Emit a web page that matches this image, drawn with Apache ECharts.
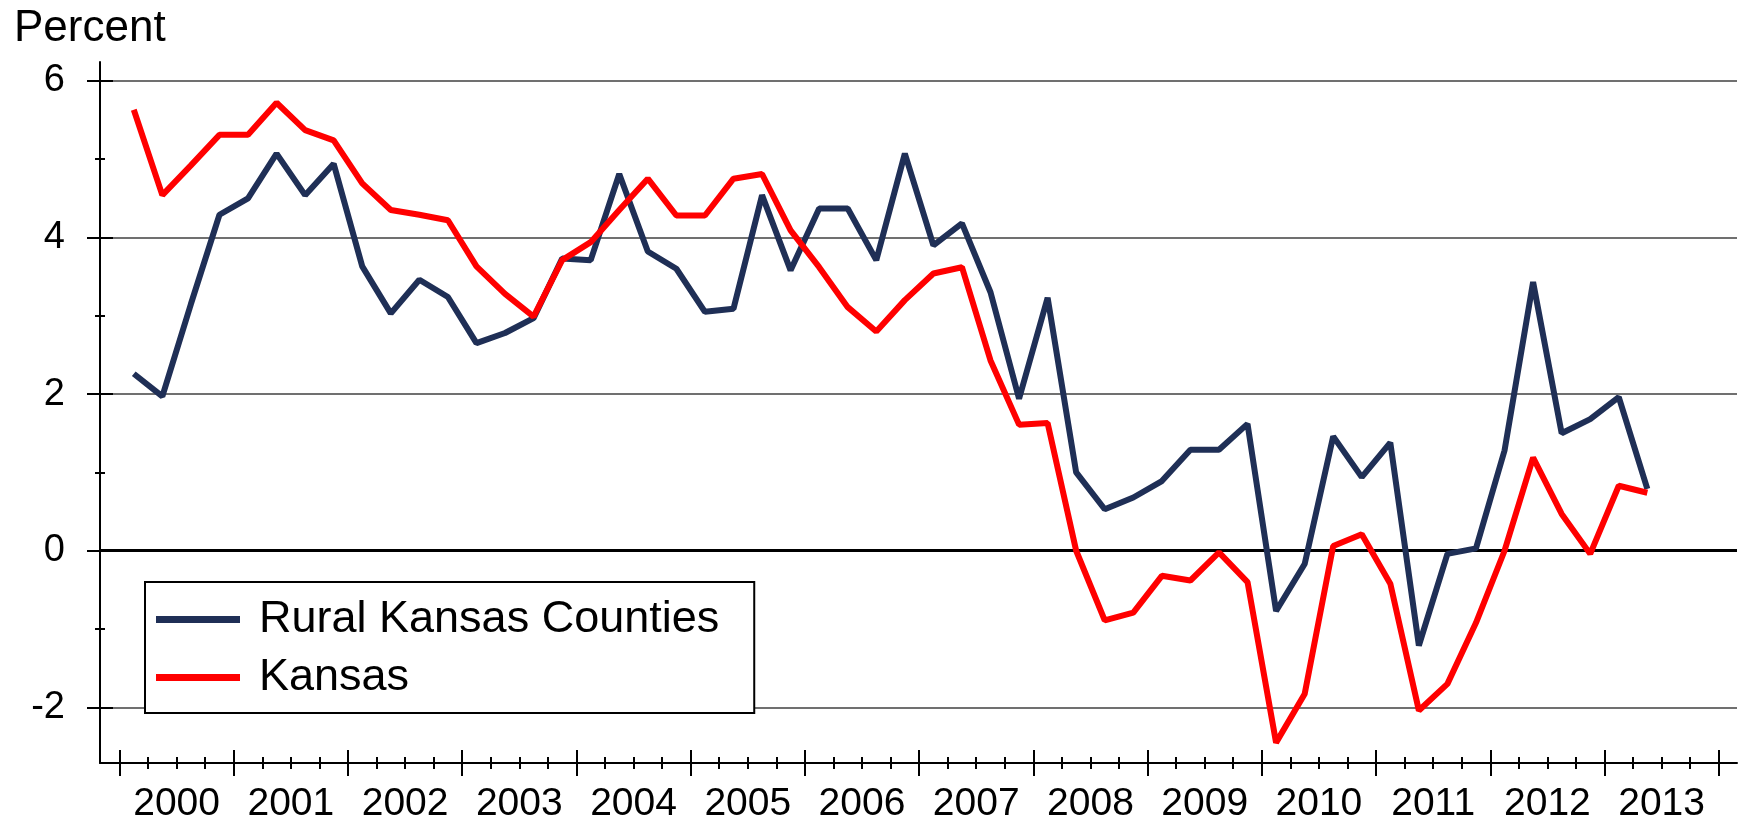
<!DOCTYPE html>
<html>
<head>
<meta charset="utf-8">
<script src="https://cdn.jsdelivr.net/npm/echarts@6/dist/echarts.min.js"></script>
<style>
html,body{margin:0;padding:0;background:#fff;}
#chart{width:1745px;height:827px;}
</style>
</head>
<body>
<div id="chart"></div>
<script>
// Quarterly data, 2000 Q1 .. 2013 Q2
var years = ['2000','2001','2002','2003','2004','2005','2006','2007','2008','2009','2010','2011','2012','2013'];
var rural = [2.26,1.97,3.15,4.29,4.50,5.07,4.54,4.94,3.63,3.03,3.46,3.24,2.65,2.78,2.97,3.73,3.71,4.81,3.82,3.60,3.05,3.09,4.54,3.58,4.37,4.37,3.71,5.07,3.90,4.18,3.30,1.94,3.23,1.00,0.53,0.68,0.89,1.29,1.29,1.62,-0.77,-0.17,1.46,0.94,1.38,-1.21,-0.04,0.03,1.28,3.43,1.50,1.68,1.96,0.79];
var kansas = [5.63,4.54,4.92,5.31,5.31,5.72,5.37,5.24,4.69,4.35,4.29,4.22,3.63,3.28,2.99,3.71,3.94,4.35,4.75,4.28,4.28,4.75,4.81,4.09,3.62,3.11,2.80,3.20,3.54,3.62,2.43,1.61,1.63,0.00,-0.89,-0.79,-0.32,-0.38,-0.02,-0.40,-2.45,-1.83,0.06,0.21,-0.42,-2.04,-1.70,-0.92,0.00,1.19,0.47,-0.04,0.83,0.74];
// tick positions (in quarter units; 0 = start of 2000)
var yearTicks = [0,4,8,12,16,20,24,28,32,36,40,44,48,52,56];
var quarterTicks = [0,1,2,3,4,5,6,7,8,9,10,11,12,13,14,15,16,17,18,19,20,21,22,23,24,25,26,27,28,29,30,31,32,33,34,35,36,37,38,39,40,41,42,43,44,45,46,47,48,49,50,51,52,53,54,55,56];
var yearLabelPos = [2,6,10,14,18,22,26,30,34,38,42,46,50,54];
var yMajor = [-2,0,2,4,6];
var yMinor = [-1,1,3,5];

function toPoints(arr){ return arr.map(function(v,i){ return [i+0.5, v]; }); }

var FONT = 'Liberation Sans, Arial, sans-serif';
var XMIN = -0.683, XMAX = 56.64, YMIN = -2.71, YMAX = 6.24;

function xAx(opts){
  return Object.assign({
    type:'value', position:'bottom', min:XMIN, max:XMAX,
    axisLine:{show:false, onZero:false},
    axisTick:{show:false},
    axisLabel:{show:false},
    splitLine:{show:false}
  }, opts);
}
function yAx(opts){
  return Object.assign({
    type:'value', position:'left', min:YMIN, max:YMAX,
    axisLine:{show:false, onZero:false},
    axisTick:{show:false},
    axisLabel:{show:false},
    splitLine:{show:false}
  }, opts);
}

var chart = echarts.init(document.getElementById('chart'), null, {renderer:'canvas'});
chart.setOption({
  animation:false,
  backgroundColor:'#fff',
  title:{
    text:'Percent', left:14, top:7, padding:0,
    textStyle:{fontFamily:FONT, fontSize:44, fontWeight:'normal', color:'#000'}
  },
  grid:{left:100, right:8, top:62, bottom:64, containLabel:false},
  legend:{
    orient:'vertical', left:145, top:582,
    data:['Rural Kansas Counties','Kansas'],
    icon:'rect', itemWidth:84, itemHeight:7, itemGap:13,
    backgroundColor:'#fff', borderColor:'#000', borderWidth:2,
    padding:[15,35,13,11],
    textStyle:{fontFamily:FONT, fontSize:45, color:'#000', lineHeight:45, padding:[0,0,0,14]}
  },
  xAxis:[
    xAx({
      axisLine:{show:true, onZero:false, lineStyle:{color:'#000', width:2}},
      axisTick:{show:true, customValues:yearTicks, length:13, inside:false, lineStyle:{color:'#000', width:2}},
      axisLabel:{show:true, customValues:yearLabelPos, margin:22,
        fontFamily:FONT, fontSize:39, color:'#000',
        formatter:function(v){ return years[Math.round((v-2)/4)]; }}
    }),
    xAx({axisTick:{show:true, customValues:yearTicks, length:13, inside:true, lineStyle:{color:'#000', width:2}}}),
    xAx({axisTick:{show:true, customValues:quarterTicks, length:6, inside:false, lineStyle:{color:'#000', width:2}}}),
    xAx({axisTick:{show:true, customValues:quarterTicks, length:6, inside:true, lineStyle:{color:'#000', width:2}}})
  ],
  yAxis:[
    yAx({
      axisLine:{show:true, onZero:false, lineStyle:{color:'#000', width:2}},
      axisTick:{show:true, customValues:yMajor, length:13, inside:false, lineStyle:{color:'#000', width:2}},
      axisLabel:{show:true, customValues:yMajor, margin:35, fontFamily:FONT, fontSize:38, color:'#000'},
      splitLine:{show:true, lineStyle:{color:'#707070', width:2}}
    }),
    yAx({axisTick:{show:true, customValues:yMajor, length:13, inside:true, lineStyle:{color:'#000', width:2}}}),
    yAx({axisTick:{show:true, customValues:yMinor, length:5, inside:false, lineStyle:{color:'#000', width:2}}}),
    yAx({axisTick:{show:true, customValues:yMinor, length:5, inside:true, lineStyle:{color:'#000', width:2}}}),
    yAx({axisTick:{show:false, customValues:[0]}, splitLine:{show:true, lineStyle:{color:'#000', width:3}}})
  ],
  series:[
    {name:'Rural Kansas Counties', type:'line', data:toPoints(rural), symbol:'none',
      lineStyle:{color:'#1f2f56', width:6}, itemStyle:{color:'#1f2f56'}, z:3},
    {name:'Kansas', type:'line', data:toPoints(kansas), symbol:'none',
      lineStyle:{color:'#ff0000', width:6}, itemStyle:{color:'#ff0000'}, z:4}
  ]
});
</script>
</body>
</html>
